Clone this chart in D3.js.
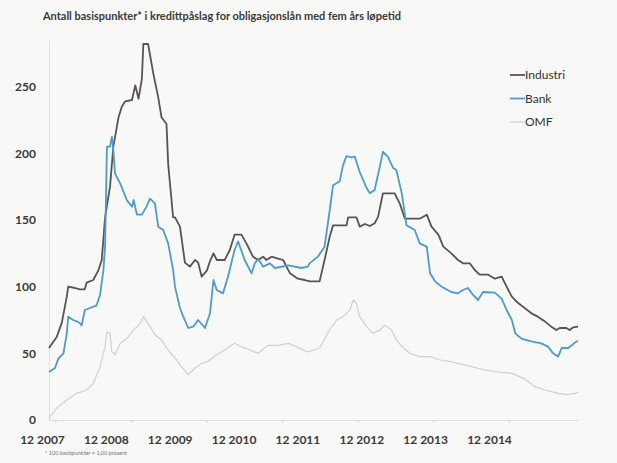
<!DOCTYPE html>
<html>
<head>
<meta charset="utf-8">
<script src="https://cdn.jsdelivr.net/npm/d3@7"></script>
<style>
  body { margin: 0; background: #f8f8f7; }
  svg { display: block; font-family: Lato, "Open Sans", sans-serif; }
</style>
</head>
<body>
<svg width="617" height="463"></svg>
<script>
// Data, basispunkter
var industriDates = ["2007-12-01","2008-01-08","2008-02-01","2008-02-25","2008-03-03","2008-04-05","2008-04-29","2008-05-22","2008-05-31","2008-07-02","2008-07-26","2008-08-12","2008-08-28","2008-09-21","2008-10-07","2008-11-01","2008-11-17","2008-12-03","2009-01-05","2009-01-21","2009-02-06","2009-02-22","2009-03-01","2009-03-24","2009-04-18","2009-05-12","2009-05-28","2009-06-21","2009-06-29","2009-07-23","2009-08-01","2009-08-25","2009-09-18","2009-10-12","2009-11-06","2009-11-21","2009-12-08","2010-01-02","2010-01-17","2010-02-03","2010-02-19","2010-03-29","2010-04-23","2010-05-16","2010-06-18","2010-07-12","2010-08-13","2010-09-07","2010-10-01","2010-10-17","2010-11-11","2010-12-12","2011-01-06","2011-01-22","2011-02-08","2011-03-18","2011-04-20","2011-05-13","2011-07-01","2011-07-25","2011-08-19","2011-09-04","2011-11-08","2011-11-16","2011-12-26","2012-01-11","2012-02-05","2012-02-29","2012-03-23","2012-04-09","2012-05-02","2012-06-28","2012-07-22","2012-08-16","2012-10-27","2012-11-30","2012-12-23","2013-01-25","2013-02-18","2013-03-29","2013-04-30","2013-05-24","2013-06-26","2013-07-20","2013-08-13","2013-09-23","2013-10-25","2013-11-27","2013-12-21","2014-01-15","2014-02-16","2014-03-18","2014-04-20","2014-05-21","2014-06-23","2014-07-25","2014-08-18","2014-09-04","2014-10-06","2014-10-22","2014-11-08","2014-12-01"];
var industriValues = [54,62.5,73,92.5,100,99,98,98,103,105,112,120,152,175,205,227,235,239,240,251,241,256,282,282,260,242,227,222,192,152,152,145,118,115,120,118,107.5,112,119,125,120,120,127.5,139,139,132.5,122.5,120,122.5,120,122.5,121,120,115,110,106,105,104,104,120,137.5,146,146,152,152,145,147,145.5,147.5,152.5,170,170,162.5,151,151,154,145,139,130,125,120,117.5,117.5,112.5,109,109,106,107.5,100,92.5,87.5,84,80,77.5,74,70,67.5,69,69,67.5,69.5,70];

var bankDates = ["2007-12-01","2007-12-30","2008-01-15","2008-02-09","2008-02-25","2008-03-03","2008-03-27","2008-04-13","2008-04-29","2008-05-07","2008-05-22","2008-06-16","2008-07-18","2008-08-04","2008-08-20","2008-08-28","2008-09-06","2008-09-21","2008-09-30","2008-10-07","2008-10-15","2008-11-09","2008-12-11","2009-01-05","2009-01-13","2009-01-29","2009-02-22","2009-03-16","2009-04-02","2009-04-26","2009-05-12","2009-06-05","2009-06-29","2009-07-23","2009-08-01","2009-08-25","2009-09-10","2009-10-04","2009-10-28","2009-11-21","2009-12-24","2010-01-17","2010-02-03","2010-02-19","2010-03-21","2010-04-14","2010-05-16","2010-06-02","2010-07-04","2010-08-06","2010-08-22","2010-09-07","2010-10-01","2010-11-03","2010-11-27","2011-02-01","2011-04-04","2011-05-05","2011-05-13","2011-06-23","2011-07-25","2011-08-19","2011-09-04","2011-10-06","2011-10-22","2011-11-08","2011-12-02","2011-12-18","2012-01-11","2012-02-13","2012-02-29","2012-03-23","2012-04-17","2012-05-02","2012-05-26","2012-06-20","2012-07-06","2012-08-01","2012-08-24","2012-10-03","2012-10-27","2012-11-30","2012-12-16","2013-01-09","2013-02-10","2013-03-29","2013-04-30","2013-05-24","2013-06-17","2013-07-11","2013-08-05","2013-08-29","2013-10-25","2013-11-27","2013-12-21","2014-01-15","2014-02-01","2014-03-03","2014-04-20","2014-06-07","2014-07-09","2014-08-03","2014-08-27","2014-09-13","2014-10-14","2014-10-31","2014-11-24","2014-12-01"];
var bankValues = [36,39,46,50,65,77.5,75,74,72.5,71,82.5,84,86,94,112.5,130,205,205,212.5,202.5,185,177.5,165,160,165,154,154,160,166,162.5,145,142.5,132.5,112.5,100,84,77.5,69,70,75,69,80,105,97.5,95,107.5,127.5,134,120,110,117.5,121,115,117.5,114,116,114,115,117.5,122.5,130,157.5,176,179,191,198,197,197.5,186,174,170,172.5,190,201,197.5,189,187.5,170,146,142.5,132.5,130,110,104,100,96,95,97.5,99,94,90,96,95.5,91,82.5,75,65,61,59,57.5,55,50,47.5,54,54,56,59,59];

var omfDates = ["2007-12-01","2008-01-08","2008-02-25","2008-04-13","2008-05-31","2008-07-02","2008-08-04","2008-08-28","2008-09-06","2008-09-21","2008-09-30","2008-10-15","2008-11-09","2008-12-11","2009-01-13","2009-02-14","2009-03-01","2009-03-24","2009-04-26","2009-05-28","2009-06-29","2009-08-09","2009-09-01","2009-10-04","2009-11-06","2009-12-08","2010-01-09","2010-02-19","2010-03-29","2010-05-16","2010-06-18","2010-07-28","2010-09-07","2010-10-25","2010-12-12","2011-02-01","2011-03-10","2011-05-05","2011-07-01","2011-08-19","2011-09-21","2011-10-22","2011-11-25","2011-12-10","2011-12-26","2012-01-11","2012-02-13","2012-03-16","2012-04-17","2012-05-11","2012-06-13","2012-07-06","2012-08-09","2012-09-10","2012-10-27","2012-12-16","2013-02-03","2013-03-21","2013-04-30","2013-07-04","2013-09-08","2013-11-11","2014-01-15","2014-03-18","2014-05-06","2014-06-23","2014-08-27","2014-10-14","2014-11-16","2014-12-01"];
var omfValues = [1.5,9,15,20,22.5,27.5,40,55,66,65,51,49,57.5,61,67.5,72.5,77.5,72.5,64,60,52.5,45,40,34,39,42.5,44,49,52.5,57.5,55,52.5,50,56,56,57.5,55,51,54,67.5,75,77.5,82.5,90,87.5,77.5,70,65,67.5,71,67.5,60,54,50,47.5,47.5,45,44,42.5,40,37.5,36,35,31,25,22.5,20,19,20,21];

var seriesNames = ["Industri", "Bank", "OMF"];
var seriesColors = ["#5a5353", "#4a9bd6", "#d0d0d0"];
var yTicks = [0, 50, 100, 150, 200, 250];
var xLabels = ["12 2007", "12 2008", "12 2009", "12 2010", "12 2011", "12 2012", "12 2013", "12 2014"];

var svg = d3.select("svg");
var parse = d3.timeParse("%Y-%m-%d");

function zip(dates, values) {
    return dates.map(function (d, i) { return { date: parse(d), value: values[i] }; });
}
var series = [zip(industriDates, industriValues), zip(bankDates, bankValues), zip(omfDates, omfValues)];

// Scales
var x = d3.scaleTime()
    .domain([parse("2007-12-01"), parse("2014-12-01")])
    .range([49, 578]);
var y = d3.scaleLinear()
    .domain([0, 285])
    .range([420, 40]);
// Excel spreads the category labels narrower than the data
var xl = d3.scalePoint()
    .domain(xLabels)
    .range([42, 489]);

// Title
svg.append("text")
    .attr("x", 43)
    .attr("y", 20)
    .attr("font-size", 11)
    .attr("font-weight", "bold")
    .attr("fill", "#3a3a3a")
    .attr("textLength", 358)
    .attr("lengthAdjust", "spacingAndGlyphs")
    .text("Antall basispunkter* i kredittpåslag for obligasjonslån med fem års løpetid");

// Y axis
var yAxis = svg.append("g")
    .attr("transform", "translate(49,0)")
    .call(d3.axisLeft(y).tickValues(yTicks).tickSize(0).tickPadding(13));
yAxis.select(".domain").attr("stroke", "#e2e2e2");
yAxis.selectAll("text")
    .attr("font-size", 12)
    .attr("font-weight", "bold")
    .attr("fill", "#3a3a3a")
    .attr("font-family", "Lato, sans-serif");

// X axis (ticks on the data, labels on their own scale)
var xAxis = svg.append("g")
    .attr("transform", "translate(0,420)")
    .call(d3.axisBottom(x).ticks(d3.timeYear.every(1)).tickFormat("").tickSize(3).tickSizeOuter(0));
xAxis.select(".domain").attr("stroke", "#dedede");
xAxis.selectAll(".tick line").attr("stroke", "#d4d4d4");
xAxis.selectAll(".tick").filter(function (d) { return +d === +x.domain()[0]; }).remove();

var xLab = svg.append("g")
    .attr("transform", "translate(0,435)")
    .call(d3.axisBottom(xl).tickSize(0).tickPadding(0));
xLab.select(".domain").remove();
xLab.selectAll("text")
    .attr("font-size", 12)
    .attr("font-weight", "bold")
    .attr("fill", "#3a3a3a")
    .attr("font-family", "Lato, sans-serif");

// Lines
var line = d3.line()
    .x(function (d) { return x(d.date); })
    .y(function (d) { return y(d.value); });

[2, 0, 1].forEach(function (i) {
    svg.append("path")
        .datum(series[i])
        .attr("fill", "none")
        .attr("stroke", seriesColors[i])
        .attr("stroke-width", i === 2 ? 1.2 : 1.8)
        .attr("stroke-linejoin", "round")
        .attr("d", line);
});

// Legend
var legend = svg.append("g").attr("transform", "translate(510,75)");
seriesNames.forEach(function (name, i) {
    var g = legend.append("g").attr("transform", "translate(0," + (i * 23.5) + ")");
    g.append("line")
        .attr("x1", 0).attr("x2", 15)
        .attr("stroke", seriesColors[i])
        .attr("stroke-width", i === 2 ? 1.2 : 1.8);
    g.append("text")
        .attr("x", 15)
        .attr("dy", "0.35em")
        .attr("font-size", 12)
        .attr("fill", "#333")
        .text(name);
});

// Footnote
svg.append("text")
    .attr("x", 45)
    .attr("y", 455)
    .attr("font-size", 5.5)
    .attr("fill", "#777")
    .text("* 100 basispunkter = 1,00 prosent");
</script>
</body>
</html>
